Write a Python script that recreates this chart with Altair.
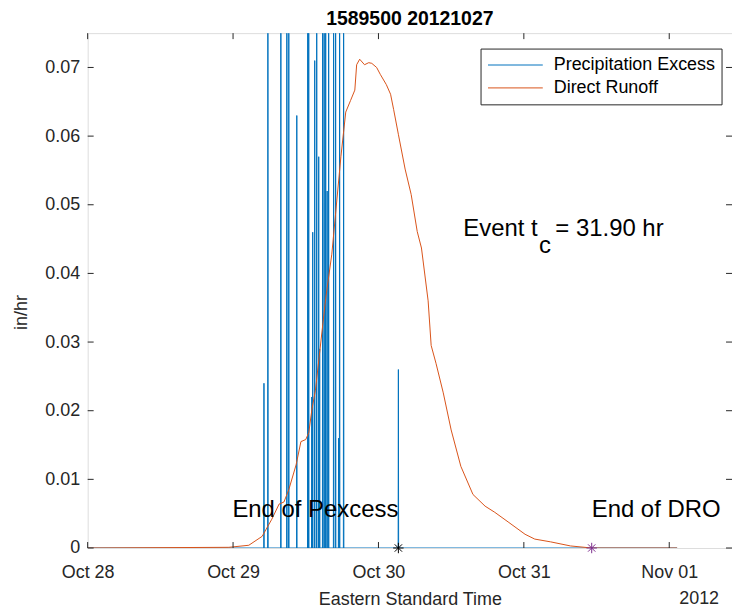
import altair as alt
import pandas as pd

FONT = "Liberation Sans"

# hours since 2012-10-28 00:00 (Eastern Standard Time)
x_tick_hours = [0, 24, 48, 72, 96]
x_tick_labels = ["Oct 28", "Oct 29", "Oct 30", "Oct 31", "Nov 01"]
y_ticks = [0, 0.01, 0.02, 0.03, 0.04, 0.05, 0.06, 0.07]

series_names = ["Precipitation Excess", "Direct Runoff"]
series_colors = ["#0072BD", "#D95319"]

# Precipitation excess spikes (hour, in/hr); values above 0.075 are off the axis
spike_hours = [29.10, 29.75, 31.89, 32.88, 33.20, 34.52, 36.33, 36.49, 36.99, 37.15,
               37.48, 37.81, 38.14, 38.30, 38.79, 39.04, 39.29, 39.53, 39.78, 40.60,
               40.93, 41.42, 41.59, 42.25, 51.29]
spike_values = [0.024, 0.09, 0.09, 0.09, 0.09, 0.063, 0.09, 0.09, 0.022, 0.046,
                0.071, 0.09, 0.057, 0.029, 0.09, 0.09, 0.09, 0.052, 0.09, 0.09,
                0.09, 0.016, 0.09, 0.09, 0.026]
series_end_hour = 97.3

runoff_hours = [0, 23.3, 26.6, 28.8, 30.4, 31.6, 32.4, 33.2, 34.4, 35.2,
                36.0, 36.5, 37.0, 37.6, 39.3, 40.3, 41.8, 42.6, 43.4, 44.1,
                44.4, 44.9, 45.7, 46.4, 46.9, 47.7, 48.3, 49.3, 50.0, 50.5,
                51.3, 52.4, 53.4, 54.4, 55.1, 56.2, 56.7, 57.5, 58.7, 60.0,
                61.6, 63.6, 65.6, 67.2, 69.4, 72.2, 73.8, 76.4, 79.7, 83.2,
                97.3]
runoff_values = [0, 0.0001, 0.0004, 0.0017, 0.0042, 0.0064, 0.0067, 0.0085, 0.0121, 0.0155,
                 0.0158, 0.0168, 0.0201, 0.0230, 0.0364, 0.0428, 0.0570, 0.0635, 0.0652, 0.0667,
                 0.0704, 0.0712, 0.0704, 0.0707, 0.0706, 0.0700, 0.0690, 0.0675, 0.0661, 0.0639,
                 0.0602, 0.0552, 0.0515, 0.0461, 0.0437, 0.0360, 0.0295, 0.0269, 0.0226, 0.0172,
                 0.0119, 0.0078, 0.0061, 0.0052, 0.0038, 0.0020, 0.0013, 0.0009, 0.0003, 0,
                 0]

end_pexcess_hour = 51.29
end_dro_hour = 83.2
tc_text = "31.90 hr"

W, H = 647, 517
X_MAX = 106.36
Y_MAX = 0.075

# ---- tables ----
pe_rows = [(0.0, 0.0)]
for t, v in zip(spike_hours, spike_values):
    pe_rows += [(t - 0.04, 0.0), (t, v), (t + 0.04, 0.0)]
pe_rows.append((series_end_hour, 0.0))
pe_df = pd.DataFrame(pe_rows, columns=["hours", "value"])
ro_df = pd.DataFrame({"hours": runoff_hours, "value": runoff_values})

xscale = alt.Scale(domain=[0, X_MAX], nice=False, zero=False)
yscale = alt.Scale(domain=[0, Y_MAX], nice=False, zero=True)

label_expr = "[" + ",".join(f"'{s}'" for s in x_tick_labels) + "][round(datum.value/24)]"

x_enc = alt.X("hours:Q", scale=xscale,
              axis=alt.Axis(values=x_tick_hours, labelExpr=label_expr,
                            title="Eastern Standard Time", ticks=False, domain=False, grid=False,
                            labelFlush=False, labelOverlap=False,
                            labelFontSize=18, titleFontSize=18, labelPadding=16,
                            titlePadding=9, labelColor="#262626", titleColor="#262626",
                            labelFont=FONT, titleFont=FONT, titleFontWeight="normal"))
y_enc = alt.Y("value:Q", scale=yscale,
              axis=alt.Axis(values=y_ticks,
                            labelExpr="datum.value == 0 ? '0' : format(datum.value, '.2f')",
                            title="in/hr", ticks=False, domain=False, grid=False,
                            labelFlush=False, labelOverlap=False,
                            labelFontSize=18, titleFontSize=18, labelPadding=8,
                            titlePadding=14, titleY=280, labelColor="#262626",
                            titleColor="#262626",
                            labelFont=FONT, titleFont=FONT, titleFontWeight="normal"))

pe_line = alt.Chart(pe_df).mark_line(color=series_colors[0], strokeWidth=1, clip=True).encode(
    x=x_enc, y=y_enc)
ro_line = alt.Chart(ro_df).mark_line(color=series_colors[1], strokeWidth=1, clip=True).encode(
    x="hours:Q", y="value:Q")

# inward ticks on all four sides
xt_df = pd.DataFrame({"hours": x_tick_hours})
yt_df = pd.DataFrame({"value": y_ticks})
TL = 6
tick_color = "#262626"
bot_ticks = alt.Chart(xt_df).mark_rule(color=tick_color).encode(
    x="hours:Q", y=alt.value(H), y2=alt.value(H - TL))
top_ticks = alt.Chart(xt_df).mark_rule(color=tick_color).encode(
    x="hours:Q", y=alt.value(0), y2=alt.value(TL))
left_ticks = alt.Chart(yt_df).mark_rule(color=tick_color).encode(
    y="value:Q", x=alt.value(0), x2=alt.value(TL))
right_ticks = alt.Chart(yt_df).mark_rule(color=tick_color).encode(
    y="value:Q", x=alt.value(W - TL), x2=alt.value(W))

# end markers (asterisks)
ASTERISK = "M-1,0L1,0M0,-1L0,1M-0.7,-0.7L0.7,0.7M-0.7,0.7L0.7,-0.7"
m1 = alt.Chart(pd.DataFrame({"hours": [end_pexcess_hour], "value": [0.0]})).mark_point(
    shape=ASTERISK, size=110, filled=False, color="#000000", strokeWidth=1, opacity=1).encode(
    x="hours:Q", y="value:Q")
m2 = alt.Chart(pd.DataFrame({"hours": [end_dro_hour], "value": [0.0]})).mark_point(
    shape=ASTERISK, size=110, filled=False, color="#7E2F8E", strokeWidth=1, opacity=1).encode(
    x="hours:Q", y="value:Q")

# annotations
AFS = 24
ann1 = alt.Chart(pd.DataFrame({"hours": [end_pexcess_hour], "value": [0.0045],
                               "t": ["End of Pexcess"]})).mark_text(
    align="right", baseline="alphabetic", fontSize=AFS, font=FONT, color="#000000").encode(
    x="hours:Q", y="value:Q", text="t:N")
ann2 = alt.Chart(pd.DataFrame({"hours": [end_dro_hour], "value": [0.0045],
                               "t": ["End of DRO"]})).mark_text(
    align="left", baseline="alphabetic", fontSize=AFS, font=FONT, color="#000000").encode(
    x="hours:Q", y="value:Q", text="t:N")
tc1 = alt.Chart(pd.DataFrame({"hours": [62.0], "value": [0.0464], "t": ["Event t"]})).mark_text(
    align="left", baseline="middle", fontSize=AFS, font=FONT, color="#000000").encode(
    x="hours:Q", y="value:Q", text="t:N")
tc2 = alt.Chart(pd.DataFrame({"hours": [74.5], "value": [0.0440], "t": ["c"]})).mark_text(
    align="left", baseline="middle", fontSize=AFS, font=FONT, color="#000000").encode(
    x="hours:Q", y="value:Q", text="t:N")
tc3 = alt.Chart(pd.DataFrame({"hours": [77.2], "value": [0.0464], "t": ["= " + tc_text]})).mark_text(
    align="left", baseline="middle", fontSize=AFS, font=FONT, color="#000000").encode(
    x="hours:Q", y="value:Q", text="t:N")

year_txt = alt.Chart(pd.DataFrame({"t": ["2012"]})).mark_text(
    align="right", baseline="middle", fontSize=18, font=FONT, color="#262626").encode(
    x=alt.value(W - 13), y=alt.value(H + 51), text="t:N")

# manual legend
LX0, LY0, LX1, LY1 = 395, 16, 637, 72
leg_box = alt.Chart(pd.DataFrame({"a": [1]})).mark_rect(
    fill="white", stroke="#262626", strokeWidth=1).encode(
    x=alt.value(LX0), x2=alt.value(LX1), y=alt.value(LY0), y2=alt.value(LY1))
leg_layers = []
for i, (nm, col) in enumerate(zip(series_names, series_colors)):
    yy = LY0 + 16 + 23 * i
    one = pd.DataFrame({"name": [nm]})
    leg_layers.append(alt.Chart(one).mark_rule(color=col, strokeWidth=1).encode(
        x=alt.value(LX0 + 7), x2=alt.value(LX0 + 62), y=alt.value(yy)))
    leg_layers.append(alt.Chart(one).mark_text(
        align="left", baseline="middle", fontSize=18, font=FONT, color="#000000").encode(
        x=alt.value(LX0 + 73), y=alt.value(yy), text="name:N"))

chart = alt.layer(
    pe_line, ro_line, bot_ticks, top_ticks, left_ticks, right_ticks,
    m1, m2, ann1, ann2, tc1, tc2, tc3, year_txt, leg_box, *leg_layers
).properties(
    width=W, height=H,
    title=alt.TitleParams("1589500 20121027", fontSize=19.5, fontWeight="bold", font=FONT,
                          color="#000000", offset=3),
    autosize=alt.AutoSizeParams(type="none"),
    padding={"left": 80, "top": 24, "right": 0, "bottom": 60},
).configure_view(
    stroke="#262626", strokeWidth=1
).configure(background="white")

chart.save("out.html", embed_options={"renderer": "svg", "actions": False})
